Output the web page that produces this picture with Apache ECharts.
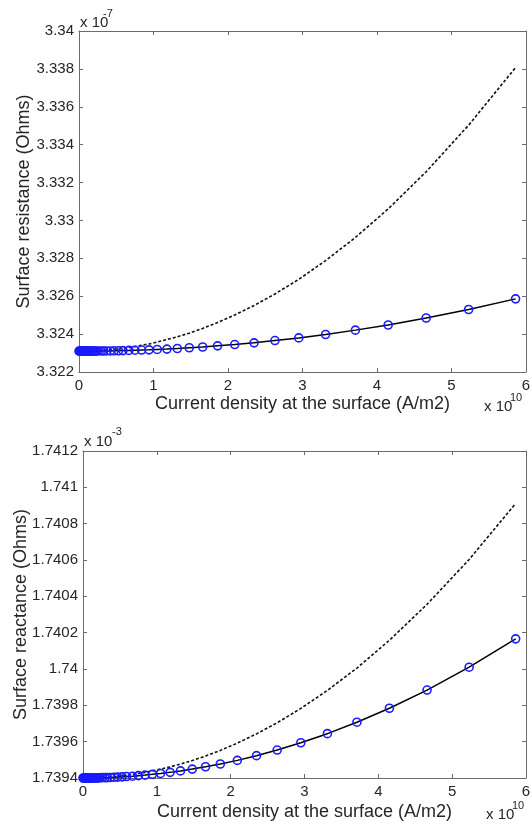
<!DOCTYPE html>
<html>
<head>
<meta charset="utf-8">
<script src="https://cdn.jsdelivr.net/npm/echarts@6/dist/echarts.min.js"></script>
<style>
html,body{margin:0;padding:0;background:#fff;}
#chart{width:530px;height:821px;}
</style>
</head>
<body>
<div id="chart"></div>
<script>
// Current density at the surface (x 10^10 A/m2)
const xVals = [0, 0.01, 0.02, 0.03, 0.04, 0.05, 0.06, 0.07, 0.08, 0.09, 0.10, 0.12, 0.13, 0.15, 0.17, 0.19, 0.21, 0.23, 0.26, 0.30, 0.33, 0.37, 0.42, 0.47, 0.53, 0.59, 0.67, 0.75, 0.84, 0.94, 1.05, 1.18, 1.32, 1.48, 1.66, 1.86, 2.09, 2.35, 2.63, 2.95, 3.31, 3.71, 4.15, 4.66, 5.23, 5.86];

// Surface resistance (x 10^-7 Ohms) - solid with circles
const resSolid = [3.3231, 3.3231, 3.3231, 3.3231, 3.3231, 3.3231, 3.3231, 3.3231, 3.3231, 3.3231, 3.3231, 3.3231, 3.3231, 3.3231, 3.3231, 3.3231, 3.3231, 3.3231, 3.32311, 3.32311, 3.32311, 3.32311, 3.32311, 3.32312, 3.32312, 3.32313, 3.32314, 3.32315, 3.32316, 3.32317, 3.32319, 3.32321, 3.32324, 3.32328, 3.32332, 3.32338, 3.32345, 3.32354, 3.32366, 3.3238, 3.32398, 3.32421, 3.32448, 3.32485, 3.3253, 3.32586];
// Surface resistance - dashed
const resDashed = [3.3231, 3.3231, 3.3231, 3.3231, 3.3231, 3.3231, 3.3231, 3.3231, 3.3231, 3.3231, 3.3231, 3.32311, 3.32311, 3.32311, 3.32311, 3.32312, 3.32312, 3.32312, 3.32313, 3.32314, 3.32315, 3.32316, 3.32318, 3.3232, 3.32322, 3.32325, 3.3233, 3.32334, 3.32341, 3.32348, 3.32358, 3.32371, 3.32386, 3.32405, 3.3243, 3.32461, 3.32501, 3.32551, 3.32612, 3.32689, 3.32788, 3.3291, 3.33061, 3.33257, 3.33503, 3.33807];

// Surface reactance (x 10^-3 Ohms) - solid with circles
const reaSolid = [1.7394, 1.7394, 1.7394, 1.7394, 1.7394, 1.7394, 1.7394, 1.7394, 1.7394, 1.7394, 1.7394, 1.7394, 1.7394, 1.7394, 1.7394, 1.7394, 1.739401, 1.739401, 1.739402, 1.739402, 1.739402, 1.739403, 1.739404, 1.739405, 1.739406, 1.739408, 1.73941, 1.739413, 1.739416, 1.73942, 1.739425, 1.739431, 1.739439, 1.739449, 1.739462, 1.739477, 1.739497, 1.739523, 1.739554, 1.739594, 1.739644, 1.739707, 1.739784, 1.739884, 1.74001, 1.740166];
// Surface reactance - dashed
const reaDashed = [1.7394, 1.7394, 1.7394, 1.7394, 1.7394, 1.7394, 1.7394, 1.7394, 1.7394, 1.7394, 1.7394, 1.739401, 1.739401, 1.739401, 1.739401, 1.739402, 1.739402, 1.739402, 1.739403, 1.739404, 1.739405, 1.739406, 1.739408, 1.73941, 1.739412, 1.739415, 1.73942, 1.739425, 1.739431, 1.739439, 1.739449, 1.739461, 1.739477, 1.739496, 1.739521, 1.739552, 1.739592, 1.739643, 1.739704, 1.739783, 1.739882, 1.740005, 1.740158, 1.740356, 1.740603, 1.740911];

const xTicks = ['0', '1', '2', '3', '4', '5', '6'];
const xName = 'Current density at the surface (A/m2)';
const yName1 = 'Surface resistance (Ohms)';
const yName2 = 'Surface reactance (Ohms)';

const FONT = "'Liberation Sans', Arial, Helvetica, sans-serif";
const TXT = '#262626';
const AX = '#6b6b6b';

function pair(xs, ys) { return xs.map((x, i) => [x, ys[i]]); }

function xAxisBase(grid, pos, showLabel, gap) {
  return {
    type: 'value', gridIndex: grid, position: pos, min: 0, max: 6, interval: 1,
    axisLine: { show: true, onZero: false, lineStyle: { color: AX, width: 1 } },
    axisTick: { show: true, inside: true, length: 4, lineStyle: { color: AX } },
    axisLabel: { show: showLabel, color: TXT, fontSize: 15, fontFamily: FONT, margin: 6,
      formatter: v => xTicks[Math.round(v)] },
    splitLine: { show: false },
    name: showLabel ? xName : '', nameLocation: 'middle', nameGap: gap, nameMoveOverlap: false,
    nameTextStyle: { color: TXT, fontSize: 18, fontFamily: FONT }
  };
}
function yAxisBase(grid, pos, showLabel, min, max, interval, digits, name, gap) {
  return {
    type: 'value', gridIndex: grid, position: pos, min: min, max: max, interval: interval,
    axisLine: { show: true, onZero: false, lineStyle: { color: AX, width: 1 } },
    axisTick: { show: true, inside: true, length: 4, lineStyle: { color: AX } },
    axisLabel: { show: showLabel, color: TXT, fontSize: 15, fontFamily: FONT, margin: 5,
      formatter: v => String(parseFloat(v.toFixed(digits))) },
    splitLine: { show: false },
    name: showLabel ? name : '', nameLocation: 'middle', nameGap: gap, nameMoveOverlap: false,
    nameTextStyle: { color: TXT, fontSize: 18, fontFamily: FONT }
  };
}

const circleStyle = { color: 'rgba(0,0,0,0)', borderColor: '#1a1aff', borderWidth: 1.6 };

const chart = echarts.init(document.getElementById('chart'), null, { renderer: 'canvas' });
chart.setOption({
  animation: false,
  backgroundColor: '#fff',
  grid: [
    { left: 79, top: 31, width: 447, height: 341, outerBoundsMode: 'none', containLabel: false },
    { left: 83, top: 451, width: 443, height: 327, outerBoundsMode: 'none', containLabel: false }
  ],
  xAxis: [
    xAxisBase(0, 'bottom', true, 23),
    xAxisBase(0, 'top', false, 0),
    xAxisBase(1, 'bottom', true, 25),
    xAxisBase(1, 'top', false, 0)
  ],
  yAxis: [
    yAxisBase(0, 'left', true, 3.322, 3.34, 0.002, 4, yName1, 46),
    yAxisBase(0, 'right', false, 3.322, 3.34, 0.002, 4, '', 0),
    yAxisBase(1, 'left', true, 1.7394, 1.7412, 0.0002, 5, yName2, 53),
    yAxisBase(1, 'right', false, 1.7394, 1.7412, 0.0002, 5, '', 0)
  ],
  series: [
    { type: 'line', xAxisIndex: 0, yAxisIndex: 0, data: pair(xVals, resDashed), showSymbol: false,
      symbol: 'none', lineStyle: { color: '#111', width: 1.6, type: [3, 2] }, clip: false, z: 2 },
    { type: 'line', xAxisIndex: 0, yAxisIndex: 0, data: pair(xVals, resSolid), symbol: 'circle', symbolSize: 8,
      showAllSymbol: true, itemStyle: circleStyle, lineStyle: { color: '#000', width: 1.5 }, clip: false, z: 3 },
    { type: 'line', xAxisIndex: 2, yAxisIndex: 2, data: pair(xVals, reaDashed), showSymbol: false,
      symbol: 'none', lineStyle: { color: '#111', width: 1.6, type: [3, 2] }, clip: false, z: 2 },
    { type: 'line', xAxisIndex: 2, yAxisIndex: 2, data: pair(xVals, reaSolid), symbol: 'circle', symbolSize: 8,
      showAllSymbol: true, itemStyle: circleStyle, lineStyle: { color: '#000', width: 1.5 }, clip: false, z: 3 }
  ],
  graphic: [
    { type: 'text', left: 80, top: 15, style: { text: 'x 10', fill: TXT, font: '15px ' + FONT } },
    { type: 'text', left: 103, top: 8, style: { text: '-7', fill: TXT, font: '11px ' + FONT } },
    { type: 'text', left: 484, top: 399, style: { text: 'x 10', fill: TXT, font: '15px ' + FONT } },
    { type: 'text', left: 510, top: 392, style: { text: '10', fill: TXT, font: '11px ' + FONT } },
    { type: 'text', left: 84, top: 434, style: { text: 'x 10', fill: TXT, font: '15px ' + FONT } },
    { type: 'text', left: 112, top: 426, style: { text: '-3', fill: TXT, font: '11px ' + FONT } },
    { type: 'text', left: 486, top: 807, style: { text: 'x 10', fill: TXT, font: '15px ' + FONT } },
    { type: 'text', left: 512, top: 800, style: { text: '10', fill: TXT, font: '11px ' + FONT } }
  ]
});
</script>
</body>
</html>
